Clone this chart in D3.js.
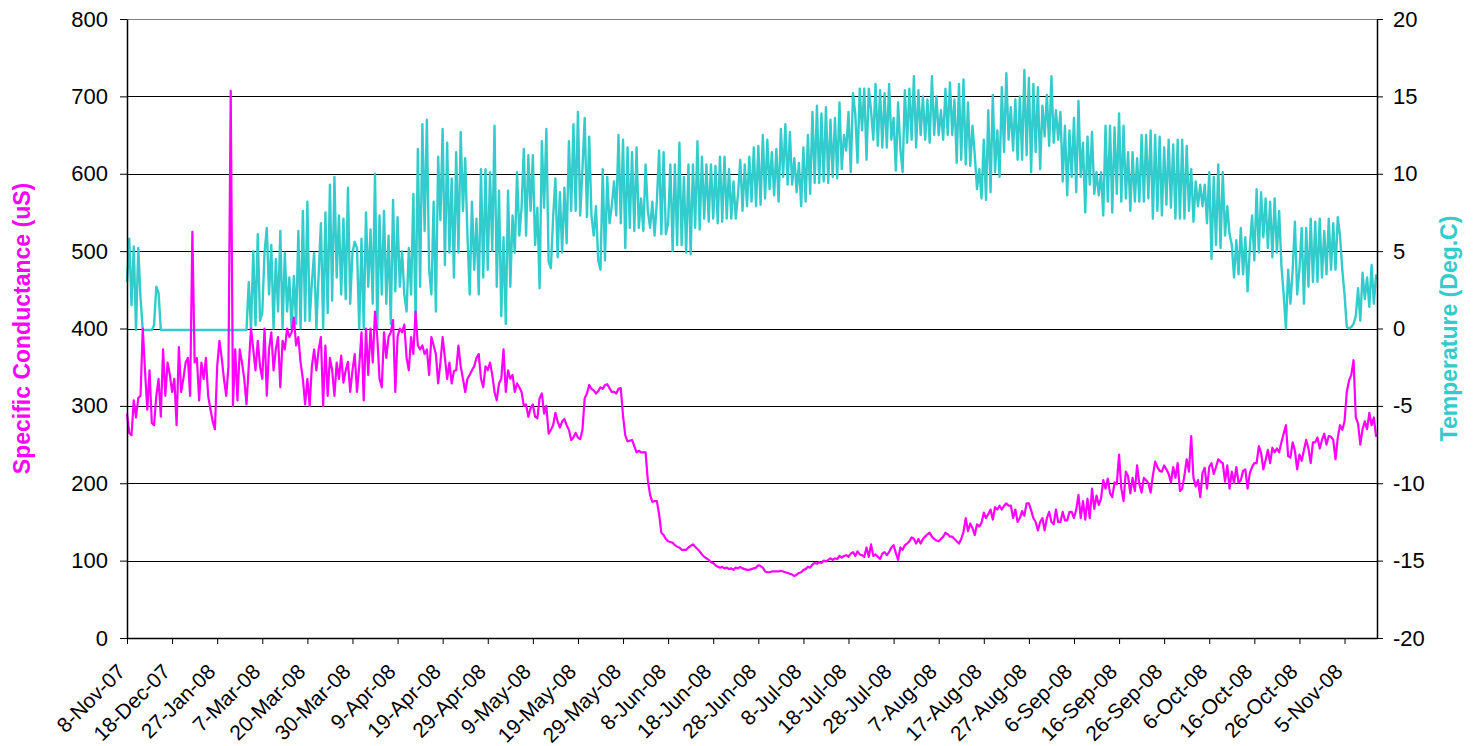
<!DOCTYPE html>
<html>
<head>
<meta charset="utf-8">
<script src="https://cdn.jsdelivr.net/npm/d3@7"></script>
<style>
  body { margin: 0; background: #fff; }
  svg { display: block; }
  text { font-family: "Liberation Sans", Arial, sans-serif; }
</style>
</head>
<body>
<svg id="chart" width="1481" height="746"></svg>
<script>
// tick labels on the category axis, one every 20 readings
const dateLabels = ["8-Nov-07","18-Dec-07","27-Jan-08","7-Mar-08","20-Mar-08","30-Mar-08","9-Apr-08",
  "19-Apr-08","29-Apr-08","9-May-08","19-May-08","29-May-08","8-Jun-08","18-Jun-08","28-Jun-08",
  "8-Jul-08","18-Jul-08","28-Jul-08","7-Aug-08","17-Aug-08","27-Aug-08","6-Sep-08","16-Sep-08",
  "26-Sep-08","6-Oct-08","16-Oct-08","26-Oct-08","5-Nov-08"];
const perLabel = 20;
const condTicks = [0,100,200,300,400,500,600,700,800];
const tempTicks = [-20,-15,-10,-5,0,5,10,15,20];

// temperature (Deg.C), one line per label interval
const tempC = [
  3.0,5.8,1.5,5.3,-0.1,5.2,2.0,-0.1,-0.1,-0.1,-0.1,-0.1,0.2,2.7,2.3,-0.1,-0.1,-0.1,-0.1,-0.1,
  -0.1,-0.1,-0.1,-0.1,-0.1,-0.1,-0.1,-0.1,-0.1,-0.1,-0.1,-0.1,-0.1,-0.1,-0.1,-0.1,-0.1,-0.1,-0.1,-0.1,
  -0.1,-0.1,-0.1,-0.1,-0.1,-0.1,-0.1,-0.1,-0.1,-0.1,-0.1,-0.1,-0.1,-0.1,3.0,-0.1,5.0,0.2,6.1,0.5,
  1.0,4.9,6.5,2.2,5.4,0.0,4.5,1.1,6.3,0.0,4.9,1.1,3.3,0.0,3.4,0.3,6.3,0.0,7.6,0.5,
  8.2,0.5,3.0,4.9,0.0,3.5,6.8,0.0,7.5,1.0,9.3,1.8,9.8,3.3,7.3,2.2,7.1,1.9,9.1,1.6,
  4.9,5.6,5.2,0.0,5.8,0.0,7.5,2.7,6.4,1.6,10.0,0.0,7.3,2.2,7.6,1.6,6.0,0.3,8.3,2.4,
  7.2,2.7,5.0,2.2,1.1,5.2,2.2,8.7,0.3,11.6,2.7,13.2,6.3,13.5,3.8,2.2,8.2,1.1,11.1,7.0,
  12.9,4.1,12.0,4.9,9.7,3.3,11.4,4.9,12.7,7.6,11.0,6.0,2.2,8.2,3.8,7.1,2.2,10.3,3.3,10.3,
  3.8,10.1,5.0,13.1,2.7,8.9,0.8,5.9,0.3,8.9,2.7,7.3,4.9,10.1,6.0,7.8,11.6,6.0,11.2,7.6,
  11.2,5.4,7.8,2.6,12.1,7.8,12.9,4.3,3.9,7.2,9.7,4.6,8.8,4.9,9.1,5.5,12.1,7.6,13.2,7.6,
  14.0,7.3,10.3,13.6,7.2,12.4,7.3,6.0,7.9,4.4,3.8,10.3,4.4,9.8,6.8,7.9,9.5,7.3,12.5,6.8,
  12.2,5.2,11.7,6.5,11.4,6.3,11.7,6.5,8.4,6.3,10.6,7.6,6.5,8.2,6.0,8.2,11.5,6.1,11.4,6.1,
  6.8,10.6,5.0,10.6,5.4,12.0,5.4,9.8,4.9,10.6,4.8,10.6,6.5,12.1,6.4,11.1,7.1,10.6,6.9,10.6,
  7.1,10.5,6.8,11.1,6.9,11.1,7.1,10.3,7.1,9.5,7.1,8.7,10.9,7.6,10.6,7.9,11.1,8.2,11.7,7.9,
  11.8,8.0,12.5,8.4,12.2,9.0,11.4,8.6,11.6,8.2,12.9,9.8,13.2,9.3,12.7,9.3,11.0,8.8,10.7,7.9,
  11.7,8.2,12.5,8.7,14.0,9.4,14.4,9.4,13.9,9.5,14.3,9.4,13.5,9.8,13.6,9.7,14.6,10.3,12.5,11.5,
  14.0,10.1,15.2,13.9,10.7,15.5,12.8,15.5,10.9,15.5,14.1,12.2,15.8,11.8,15.4,11.7,15.2,11.7,15.8,12.2,
  13.6,10.2,14.6,11.6,10.1,15.4,12.0,15.5,12.2,16.3,11.7,15.4,12.5,15.0,12.2,14.8,12.0,16.3,12.5,15.0,
  12.5,14.1,12.2,15.5,12.5,15.9,12.5,14.8,10.7,15.8,10.9,16.1,10.6,14.6,10.5,13.1,11.2,9.0,10.3,8.4,
  12.2,8.3,14.1,8.8,15.1,10.1,12.8,9.8,15.6,11.4,16.5,12.2,14.3,11.5,14.8,10.9,15.0,10.9,16.7,11.2,
  16.2,10.1,15.8,11.4,15.6,10.3,14.4,12.4,15.1,11.8,16.3,12.0,14.1,12.2,14.0,9.5,13.1,8.6,12.8,9.8,
  13.6,8.8,14.7,9.8,12.0,7.5,12.4,9.3,12.7,8.7,10.1,8.6,10.1,7.3,13.1,8.2,13.1,7.5,13.0,8.7,
  13.9,8.2,13.1,8.4,11.4,7.6,11.4,8.2,11.0,8.2,12.5,8.2,12.5,8.4,12.8,7.1,12.5,7.6,12.4,7.3,
  11.7,8.0,12.2,7.8,11.9,7.1,12.2,7.1,12.2,7.1,11.8,7.6,10.3,6.9,9.5,7.9,9.3,7.9,9.3,6.8,
  10.1,4.5,9.8,5.4,10.6,5.2,10.1,6.0,7.9,6.1,5.4,3.3,5.7,3.5,6.5,3.5,5.9,2.4,5.2,7.3,
  4.4,9.0,4.9,8.8,5.9,8.4,5.2,8.2,4.6,8.4,4.9,7.6,4.1,2.2,0.0,3.8,1.6,3.8,6.9,2.2,
  3.8,6.5,1.6,6.5,2.7,7.1,3.0,6.9,3.0,7.1,3.3,6.3,3.5,7.1,3.8,6.8,3.8,7.2,6.0,3.8,
  2.2,0.1,0.0,0.1,0.3,0.8,2.6,0.5,3.6,1.9,3.3,1.4,4.1,1.6,3.5
];

// specific conductance (uS), same readings
const condUS = [
  290,265,262,307,285,310,313,400,345,295,346,278,275,313,335,286,373,313,356,340,
  318,335,275,376,318,335,356,362,313,525,356,362,307,356,335,362,313,296,280,270,
  351,384,362,335,313,351,707,300,373,307,373,356,335,302,351,400,373,346,384,351,
  335,400,313,373,395,346,373,389,324,384,373,400,389,395,414,378,389,356,335,302,
  335,300,351,373,346,373,389,300,378,313,362,346,313,356,335,365,330,346,357,318,
  346,367,318,351,395,307,400,340,400,356,422,389,335,324,395,362,389,395,411,318,
  389,400,395,405,362,346,389,367,422,378,373,378,367,373,340,389,378,367,329,356,
  389,362,335,356,329,345,346,378,351,335,318,335,340,346,351,362,367,335,324,351,
  346,356,340,318,307,329,335,373,318,346,335,340,318,329,324,318,300,302,286,297,
  302,286,284,310,316,290,300,264,269,275,291,280,272,280,283,275,269,256,259,265,
  259,257,269,310,316,327,322,320,316,319,324,322,327,328,323,318,318,316,322,323,
  287,262,254,255,256,248,240,242,240,240,240,204,185,176,177,177,160,136,133,128,
  125,124,123,120,118,117,114,114,114,117,119,121,118,115,112,108,105,103,101,98,
  97,94,92,91,92,90,91,89,90,88,91,90,92,90,89,88,88,89,90,91,
  94,93,91,86,85,85,86,86,86,86,87,86,85,84,83,82,80,82,84,85,
  88,89,92,91,95,97,96,98,97,100,99,101,103,101,103,102,106,104,106,107,
  105,109,111,106,112,108,107,105,117,105,121,106,108,105,102,109,111,107,111,117,
  120,110,101,117,114,120,122,125,130,128,122,128,122,128,131,134,136,131,128,126,
  125,128,131,136,134,131,131,128,125,122,128,137,155,138,148,142,133,147,144,149,
  162,155,160,166,153,169,166,171,166,171,174,171,171,155,166,150,155,164,158,174,
  174,165,155,150,139,150,155,139,155,163,150,147,166,150,150,163,152,152,163,163,
  155,166,185,155,177,153,180,155,193,167,184,172,180,204,193,206,187,182,201,199,
  237,193,177,215,209,187,207,190,223,199,188,207,204,200,188,210,228,221,216,215,
  223,218,212,201,221,207,226,190,193,210,231,215,261,207,196,204,182,213,220,193,
  221,226,212,221,231,228,226,202,223,193,215,200,221,201,204,216,218,193,213,221,
  226,226,248,239,218,230,243,226,246,240,245,240,253,264,275,235,233,253,242,218,
  237,229,243,256,245,226,253,253,259,245,256,264,250,261,260,256,231,259,275,269,
  280,318,333,340,359,285,277,250,270,280,270,291,275,285,260
];

const width = 1481;
const height = 746;
const margin = { top: 19, right: 104, bottom: 108, left: 127 };
const plotRight = width - margin.right;
const plotBottom = height - margin.bottom;

const magenta = "#FF00FF";
const cyan = "#33CCCC";

const svg = d3.select("#chart");

// the axis runs about 0.72 of a label step past the last label
const xScale = d3.scaleLinear()
  .domain([0, (dateLabels.length - 1 + 0.72) * perLabel])
  .range([margin.left, plotRight]);

const yCond = d3.scaleLinear().domain([0, 800]).range([plotBottom, margin.top]);
const yTemp = d3.scaleLinear().domain([-20, 20]).range([plotBottom, margin.top]);

// gridlines
svg.append("g")
  .selectAll("line")
  .data(condTicks.filter(d => d > 0))
  .join("line")
  .attr("x1", margin.left)
  .attr("x2", plotRight)
  .attr("y1", d => Math.round(yCond(d)) + 0.5)
  .attr("y2", d => Math.round(yCond(d)) + 0.5)
  .attr("stroke", d => d === 800 ? "#808080" : "#000")
  .attr("stroke-width", 1);

const tempLine = d3.line()
  .x((d, i) => xScale(i))
  .y(d => yTemp(d));

const condLine = d3.line()
  .x((d, i) => xScale(i))
  .y(d => yCond(d));

svg.append("path")
  .datum(tempC)
  .attr("fill", "none")
  .attr("stroke", cyan)
  .attr("stroke-width", 2.4)
  .attr("stroke-linejoin", "round")
  .attr("d", tempLine);

svg.append("path")
  .datum(condUS)
  .attr("fill", "none")
  .attr("stroke", magenta)
  .attr("stroke-width", 2.2)
  .attr("stroke-linejoin", "round")
  .attr("d", condLine);

// axes
const axisFont = 'font-family: "Liberation Sans", Arial, sans-serif; font-size: 22px;';

const leftAxis = svg.append("g")
  .attr("transform", `translate(${margin.left}, 0)`)
  .attr("style", axisFont)
  .call(d3.axisLeft(yCond).tickValues(condTicks).tickSize(7).tickSizeOuter(0).tickPadding(12));

const rightAxis = svg.append("g")
  .attr("transform", `translate(${plotRight}, 0)`)
  .attr("style", axisFont)
  .call(d3.axisRight(yTemp).tickValues(tempTicks).tickSize(6).tickSizeOuter(0).tickPadding(10)
    .tickFormat(d => String(d)));

const bottomAxis = svg.append("g")
  .attr("transform", `translate(0, ${plotBottom})`)
  .attr("style", 'font-family: "Liberation Sans", Arial, sans-serif; font-size: 21px;')
  .call(d3.axisBottom(xScale)
    .tickValues(dateLabels.map((d, i) => i * perLabel))
    .tickSize(6)
    .tickSizeOuter(0)
    .tickFormat(d => dateLabels[d / perLabel]));

bottomAxis.selectAll(".tick text")
  .attr("x", 0)
  .attr("y", 0)
  .attr("dy", 0)
  .attr("text-anchor", "end")
  .attr("transform", "translate(-1, 35) rotate(-45)");

[leftAxis, rightAxis, bottomAxis].forEach(g => {
  g.select(".domain").attr("stroke", "#000").attr("stroke-width", 1.5);
  g.selectAll(".tick line").attr("stroke", "#000");
  g.selectAll(".tick text").attr("fill", "#000");
});

// axis titles
svg.append("text")
  .attr("transform", `translate(30, ${(margin.top + plotBottom) / 2}) rotate(-90)`)
  .attr("text-anchor", "middle")
  .attr("fill", magenta)
  .attr("font-weight", "bold")
  .attr("font-size", 23)
  .text("Specific Conductance (uS)");

svg.append("text")
  .attr("transform", `translate(1457, ${(margin.top + plotBottom) / 2}) rotate(-90)`)
  .attr("text-anchor", "middle")
  .attr("fill", cyan)
  .attr("font-weight", "bold")
  .attr("font-size", 23)
  .text("Temperature (Deg.C)");
</script>
</body>
</html>
